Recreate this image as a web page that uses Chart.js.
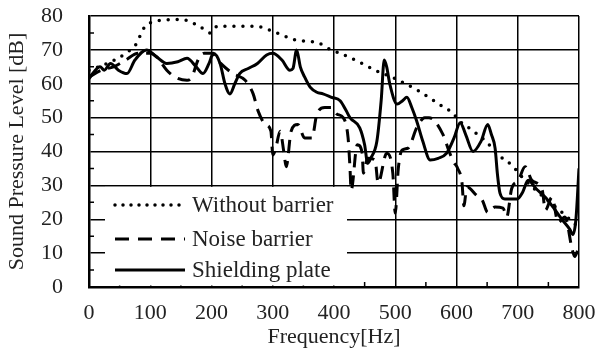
<!DOCTYPE html>
<html>
<head>
<meta charset="utf-8">
<script src="https://cdn.jsdelivr.net/npm/chart.js@4.4.1/dist/chart.umd.min.js"></script>
<style>
    html, body { margin: 0; padding: 0; background: #fff; }
</style>
</head>
<body>
<canvas id="splChart" width="597" height="356"></canvas>
<script>
// frequency ticks [Hz] and level ticks [dB]
const freqTicks = [0, 100, 200, 300, 400, 500, 600, 700, 800];
const levelTicks = [0, 10, 20, 30, 40, 50, 60, 70, 80];
const seriesNames = ['Without barrier', 'Noise barrier', 'Shielding plate'];

// Without barrier
const withoutFreq = [0, 30, 60, 78, 88, 100, 150, 180, 198, 210, 270, 300, 335, 375, 395, 410, 440, 467, 500, 537, 580, 593, 605, 620, 648, 668, 690, 707, 733, 766, 785, 800];
const withoutLevel = [64, 66, 69, 72, 76, 78, 79, 77, 75, 77, 77, 75.5, 73, 72, 70, 69, 66.5, 64, 61.5, 58, 53, 51.5, 49, 47, 43, 39, 36, 32.5, 28, 23, 20, 17.5];

// Noise barrier
const noiseFreq = [0, 20, 40, 60, 80, 100, 110, 127, 140, 160, 168, 178, 188, 200, 215, 235, 255, 268, 276, 288, 297, 300, 305, 312, 318, 322, 330, 341, 352, 364, 372, 385, 395, 405, 415, 423, 426, 428, 438, 446, 448, 455, 467, 472, 486, 496, 500, 505, 511, 521, 535, 548, 555, 578, 588, 595, 602, 609, 612, 617, 633, 642, 651, 663, 676, 682, 690, 701, 712, 723, 740, 745, 756, 766, 777, 789, 793, 800];
const noiseLevel = [62, 64, 65, 67, 69, 69, 68, 64, 62, 61, 62, 67, 69, 69, 66, 63, 61, 57, 52, 48, 46, 39, 41, 46, 40, 35.5, 46, 48, 44, 44, 51, 53, 53, 51, 50, 44, 35.5, 28.6, 42, 39.5, 33.6, 38, 37.5, 30.7, 39.5, 33.6, 21.8, 35, 40.4, 41, 47, 50, 50, 45, 40, 37, 35, 30.7, 24, 29.5, 27, 25.7, 22, 23.6, 23.3, 20.7, 29, 31.5, 35.5, 31.5, 28.6, 22.7, 26.5, 19, 20.7, 11, 9, 12];

// Shielding plate
const plateFreq = [0, 8, 18, 25, 35, 48, 62, 75, 94, 110, 127, 145, 160, 175, 186, 196, 203, 214, 222, 230, 238, 246, 260, 275, 290, 300, 315, 328, 333, 339, 345, 352, 361, 372, 382, 396, 410, 420, 426, 442, 450, 455, 460, 470, 477, 482, 486, 491, 503, 512, 519, 527, 535, 545, 557, 570, 584, 596, 606, 615, 627, 640, 651, 657, 663, 667, 671, 679, 699, 708, 717, 730, 745, 760, 772, 785, 790, 795, 800];
const plateLevel = [61.5, 63.5, 65, 64, 66, 64, 63, 67, 70, 68, 66, 66.5, 67.5, 65, 63, 66, 69, 66, 60, 57, 60, 63, 64.5, 66, 68.5, 69, 67, 64, 64.5, 70, 65, 62, 59, 57.5, 57, 56, 55, 52, 50, 47, 42, 36.5, 38, 43, 55, 67, 65, 60, 54, 55, 56, 53, 49, 43, 37.5, 38, 39.5, 44, 48.5, 45, 40, 43, 48, 45, 41, 33, 27.7, 26, 26, 28, 31.5, 29, 26.5, 23, 20, 17, 15.5, 20, 35];

const serif = 'Liberation Serif';
const textColor = '#222';

function toPoints(xs, ys) {
    return xs.map((f, i) => ({ x: f, y: ys[i] }));
}

const lineStyles = [
    { dash: [0, 9], width: 3.5, cap: 'round' },
    { dash: [13, 8], width: 3, cap: 'butt' },
    { dash: [], width: 3, cap: 'butt' }
];

// white canvas background
const whiteBg = {
    id: 'whiteBg',
    beforeDraw(chart) {
        const ctx = chart.ctx;
        ctx.save();
        ctx.fillStyle = '#fff';
        ctx.fillRect(0, 0, chart.width, chart.height);
        ctx.restore();
    }
};

// short inward minor ticks + the boxed legend in the lower left
const extras = {
    id: 'extras',
    afterDatasetsDraw(chart) {
        const { ctx, chartArea: ca, scales: { x, y } } = chart;
        ctx.save();
        ctx.strokeStyle = '#000';
        ctx.lineWidth = 1.5;
        ctx.beginPath();
        for (let f = 50; f < 800; f += 100) {
            const px = x.getPixelForValue(f);
            ctx.moveTo(px, ca.bottom);
            ctx.lineTo(px, ca.bottom - 5);
        }
        for (let l = 5; l < 80; l += 10) {
            const py = y.getPixelForValue(l);
            ctx.moveTo(ca.left, py);
            ctx.lineTo(ca.left + 5, py);
        }
        ctx.stroke();

        // legend box
        const left = ca.left + 16;
        const top = y.getPixelForValue(30) + 1.5;
        const right = ca.left + 258;
        const bottom = ca.bottom - 1.5;
        ctx.fillStyle = '#fff';
        ctx.fillRect(left, top, right - left, bottom - top);

        const rows = [205, 239, 270];
        ctx.font = '23px "' + serif + '"';
        ctx.textBaseline = 'middle';
        ctx.textAlign = 'left';
        seriesNames.forEach((name, i) => {
            const s = lineStyles[i];
            ctx.strokeStyle = '#000';
            ctx.lineWidth = s.width;
            ctx.lineCap = s.cap;
            ctx.setLineDash(s.dash.length ? (i === 0 ? [0, 8] : [14, 9]) : []);
            ctx.beginPath();
            ctx.moveTo(left + 10, rows[i]);
            ctx.lineTo(left + 80, rows[i]);
            ctx.stroke();
            ctx.setLineDash([]);
            ctx.fillStyle = textColor;
            ctx.fillText(name, left + 87, rows[i] + 1);
        });
        ctx.restore();
    }
};

function noPad(scale) {
    scale.paddingTop = 0;
    scale.paddingBottom = 0;
    scale.paddingLeft = 0;
    scale.paddingRight = 0;
}

const ctx = document.getElementById('splChart');

new Chart(ctx, {
    type: 'line',
    data: {
        datasets: [
            toPoints(withoutFreq, withoutLevel),
            toPoints(noiseFreq, noiseLevel),
            toPoints(plateFreq, plateLevel)
        ].map((pts, i) => ({
            label: seriesNames[i],
            data: pts,
            borderColor: '#000',
            borderWidth: lineStyles[i].width,
            borderDash: lineStyles[i].dash,
            borderCapStyle: lineStyles[i].cap,
            borderJoinStyle: 'round',
            pointRadius: 0,
            fill: false,
            cubicInterpolationMode: 'monotone'
        }))
    },
    options: {
        responsive: false,
        animation: false,
        devicePixelRatio: 1,
        layout: { padding: { top: 16, right: 18, left: 0, bottom: 0 } },
        plugins: {
            legend: { display: false },
            tooltip: { enabled: false }
        },
        scales: {
            x: {
                type: 'linear',
                min: 0,
                max: 800,
                afterBuildTicks: (scale) => { scale.ticks = freqTicks.map(v => ({ value: v })); },
                afterFit: (scale) => { scale.height = 69; noPad(scale); },
                grid: { color: '#000', lineWidth: 1.5, drawTicks: false },
                border: { color: '#000', width: 2.5 },
                ticks: {
                    color: textColor,
                    padding: 13,
                    maxRotation: 0,
                    font: { family: serif, size: 22 }
                },
                title: {
                    display: true,
                    text: 'Frequency[Hz]',
                    color: textColor,
                    padding: { top: 0, bottom: 6 },
                    font: { family: serif, size: 22 }
                }
            },
            y: {
                min: 0,
                max: 80,
                afterBuildTicks: (scale) => { scale.ticks = levelTicks.map(v => ({ value: v })); },
                afterFit: (scale) => { scale.width = 89; noPad(scale); },
                grid: { color: '#000', lineWidth: 1.5, drawTicks: false },
                border: { color: '#000', width: 2.5 },
                ticks: {
                    color: textColor,
                    padding: 26,
                    font: { family: serif, size: 22 }
                },
                title: {
                    display: true,
                    text: 'Sound Pressure Level [dB]',
                    color: textColor,
                    padding: { top: 4, bottom: 0 },
                    font: { family: serif, size: 22 }
                }
            }
        }
    },
    plugins: [whiteBg, extras]
});
</script>
</body>
</html>
